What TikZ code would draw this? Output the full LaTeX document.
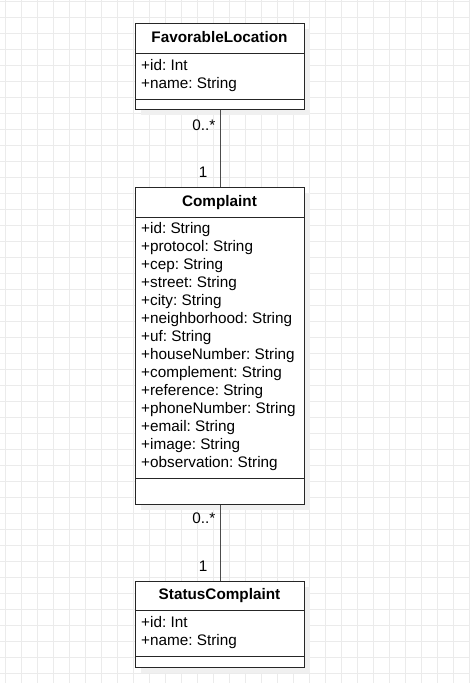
\documentclass[tikz,border=0pt]{standalone}
\usepackage{fontspec}
\setmainfont{Liberation Sans}
\frenchspacing
\begin{document}
\begin{tikzpicture}[x=1pt,y=-1pt,
  gridline/.style={draw=black!8,line width=0.8pt},
  classbox/.style={draw=black!85,fill=white,line width=1pt},
  shadowbox/.style={fill=black!6},
  divider/.style={draw=black!85,line width=1pt},
  title/.style={font=\bfseries\fontsize{15.3}{18}\selectfont,inner sep=0pt,anchor=mid},
  attr/.style={font=\fontsize{15.3}{18}\selectfont,inner sep=0pt,anchor=mid west},
  mult/.style={font=\fontsize{15.3}{18}\selectfont,inner sep=0pt,anchor=mid east},
  assoc/.style={draw=black!70,line width=1pt}]
\useasboundingbox (0,0) rectangle (469,683);
\fill[white] (0,0) rectangle (469,683);
\foreach \i in {0,...,29} {\draw[gridline] (5.3+16*\i,0) -- (5.3+16*\i,683);}
\foreach \j in {0,...,42} {\draw[gridline] (0,1.3+16*\j) -- (469,1.3+16*\j);}
% shadows
\fill[shadowbox] (141,29) rectangle (310,115);
\fill[shadowbox] (141,193) rectangle (310,510);
\fill[shadowbox] (141,587) rectangle (310,673);
% FavorableLocation
\node[classbox,minimum width=169pt,minimum height=86pt,inner sep=0pt,anchor=north west] (fl) at (135,23) {};
\draw[divider] (135,53) -- (304,53);
\draw[divider] (135,99) -- (304,99);
\node[title] (flt) at (219.5,40) {FavorableLocation};
\node[attr] (fla1) at (141,68) {+id: Int};
\node[attr] (fla2) at (141,86) {+name: String};
% Complaint
\node[classbox,minimum width=169pt,minimum height=317pt,inner sep=0pt,anchor=north west] (c) at (135,187) {};
\draw[divider] (135,217) -- (304,217);
\draw[divider] (135,478) -- (304,478);
\node[title] (ct) at (219.5,203.5) {Complaint};
\foreach \t [count=\k from 0] in {+id: String,+protocol: String,+cep: String,+street: String,+city: String,+neighborhood: String,+uf: String,+houseNumber: String,+complement: String,+reference: String,+phoneNumber: String,+email: String,+image: String,+observation: String}
  {\node[attr] (ca\k) at (141,231+18*\k) {\t};}
% StatusComplaint
\node[classbox,minimum width=169pt,minimum height=86pt,inner sep=0pt,anchor=north west] (sc) at (135,581) {};
\draw[divider] (135,610) -- (304,610);
\draw[divider] (135,656) -- (304,656);
\node[title] (sct) at (219.5,597) {StatusComplaint};
\node[attr] (sca1) at (141,624.5) {+id: Int};
\node[attr] (sca2) at (141,642.5) {+name: String};
% associations
\draw[assoc] (fl.south) -- (c.north);
\draw[assoc] (c.south) -- (sc.north);
\node[mult] (m1) at (215.5,127.5) {0..*};
\node[mult] (m2) at (207.5,174.5) {1};
\node[mult] (m3) at (215.5,521) {0..*};
\node[mult] (m4) at (207.5,568.5) {1};
\end{tikzpicture}
\end{document}
